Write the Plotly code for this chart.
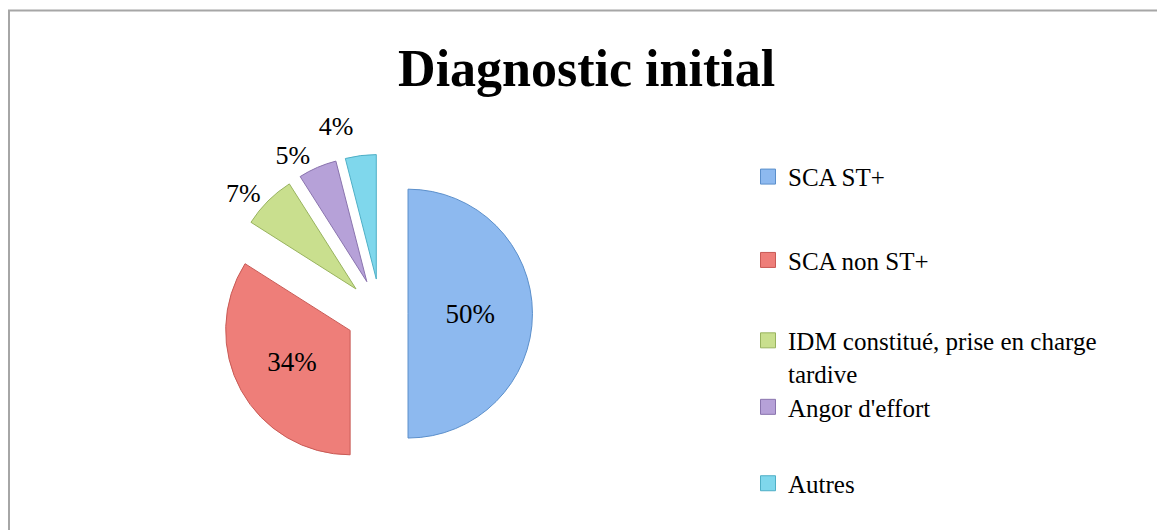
import plotly.graph_objects as go

labels = ["SCA ST+", "SCA non ST+", "IDM constitué, prise en charge tardive", "Angor d'effort", "Autres"]
legend_labels = ["SCA ST+", "SCA non ST+", "IDM constitué, prise en charge<br>tardive", "Angor d'effort", "Autres"]
values = [50, 34, 7, 5, 4]
colors = ["#8DB9EF", "#EE7E79", "#C9DF8E", "#B6A1D8", "#7FD7EC"]
line_colors = ["#5B8FCB", "#C85A55", "#98B35E", "#8A74AE", "#4FAFC6"]
pulls = [0.22, 0.28, 0.28, 0.28, 0.28]
text_pos = ["inside", "inside", "outside", "outside", "outside"]

FONT = "Liberation Serif"
W, H = 1157, 530

fig = go.Figure()
fig.add_trace(go.Pie(
    labels=labels, values=values, sort=False, direction="clockwise", rotation=0,
    pull=pulls,
    marker=dict(colors=colors, line=dict(color=line_colors, width=1)),
    texttemplate="%{value}%", textposition=text_pos,
    insidetextorientation="horizontal",
    textfont=dict(family=FONT, size=27, color="#000000"),
    outsidetextfont=dict(family=FONT, size=26, color="#000000"),
    domain=dict(x=[0.1903, 0.4677], y=[0.101, 0.7066]),
    showlegend=False, hoverinfo="label+percent",
))

legend_y = [178, 262, 343, 410, 487]
for i, (name, col) in enumerate(zip(legend_labels, colors)):
    lg = "legend" if i == 0 else f"legend{i+1}"
    fig.add_trace(go.Scatter(
        x=[None], y=[None], mode="markers", name=name,
        marker=dict(symbol="square", size=15, color=col, line=dict(color=line_colors[i], width=1)),
        legend=lg, showlegend=True,
    ))
    fig.update_layout({lg: dict(
        x=748 / W, y=1 - (legend_y[i] - 23) / H, xanchor="left", yanchor="top",
        font=dict(family=FONT, size=25, color="#000000"),
        bgcolor="rgba(0,0,0,0)", valign="top", itemwidth=30,
    )})

fig.add_shape(type="rect", xref="paper", yref="paper",
              x0=9 / W, x1=1.02, y0=-0.02, y1=1 - 10.5 / H,
              line=dict(color="#A6A6A6", width=2), fillcolor="rgba(0,0,0,0)", layer="below")

fig.update_layout(
    width=W, height=H,
    margin=dict(l=0, r=0, t=0, b=0),
    paper_bgcolor="white", plot_bgcolor="white",
    title=dict(text="<b>Diagnostic initial</b>", x=0.507, xanchor="center",
               y=1 - 68 / H, yanchor="middle",
               font=dict(family=FONT, size=52, color="#000000")),
    xaxis=dict(visible=False), yaxis=dict(visible=False),
)

post = (
    "document.body.style.margin='0';"
    "var s=document.createElement('style');"
    "s.innerHTML='path.textline{display:none !important;}';"
    "document.head.appendChild(s);"
)
fig.write_html("out.html", post_script=post, config={"displayModeBar": False})
